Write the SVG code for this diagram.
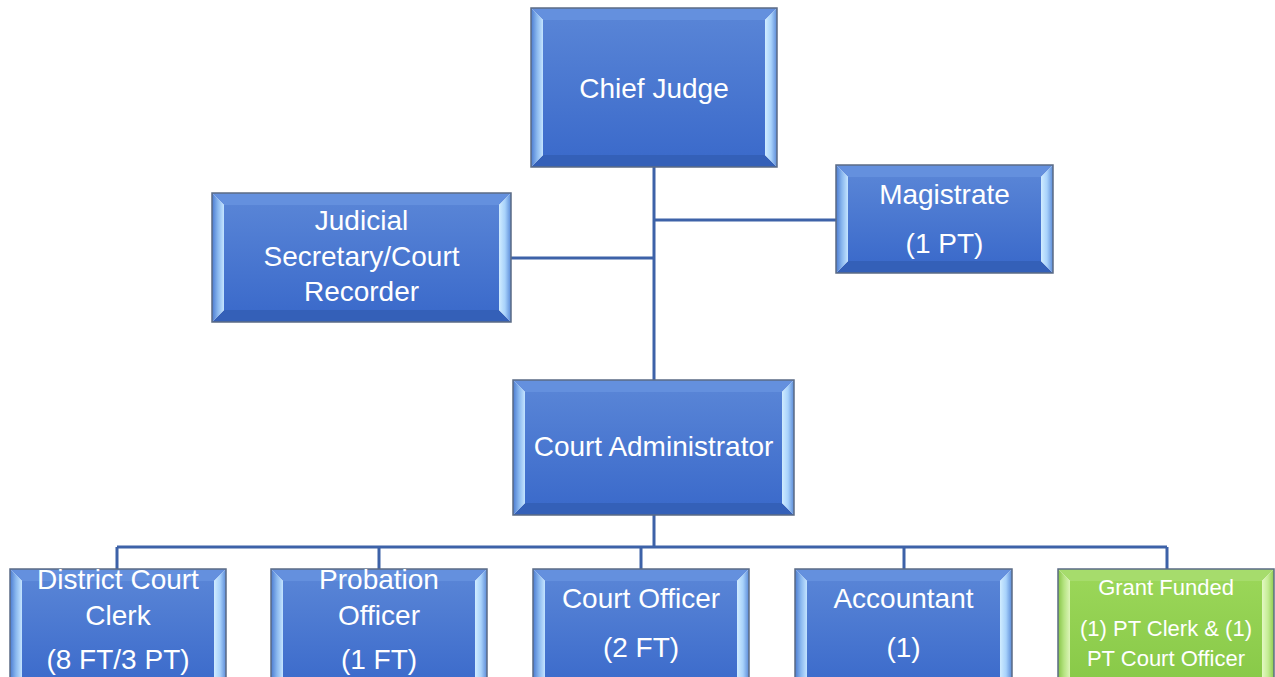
<svg xmlns="http://www.w3.org/2000/svg" width="1275" height="677" viewBox="0 0 1275 677">
<defs>
<linearGradient id="gin" x1="0" y1="0" x2="0" y2="1"><stop offset="0" stop-color="#5884d6"/><stop offset="1" stop-color="#3c6bcb"/></linearGradient>
<linearGradient id="gl" x1="0" y1="0" x2="1" y2="0"><stop offset="0" stop-color="#4a7ad0"/><stop offset="0.5" stop-color="#8ab8ef"/><stop offset="1" stop-color="#c4e4ff"/></linearGradient>
<linearGradient id="gr" x1="1" y1="0" x2="0" y2="0"><stop offset="0" stop-color="#5a8ad8"/><stop offset="0.5" stop-color="#a8d2fb"/><stop offset="1" stop-color="#d0ecff"/></linearGradient>
<linearGradient id="ggin" x1="0" y1="0" x2="0" y2="1"><stop offset="0" stop-color="#9ad658"/><stop offset="1" stop-color="#88c948"/></linearGradient>
<linearGradient id="ggl" x1="0" y1="0" x2="1" y2="0"><stop offset="0" stop-color="#86c446"/><stop offset="0.5" stop-color="#b6e482"/><stop offset="1" stop-color="#dcf4b8"/></linearGradient>
<linearGradient id="ggr" x1="1" y1="0" x2="0" y2="0"><stop offset="0" stop-color="#8ccc4c"/><stop offset="0.5" stop-color="#c4ec94"/><stop offset="1" stop-color="#e4f8c4"/></linearGradient>
</defs>
<style>
.ot{fill:none;stroke:#5b6b85;stroke-width:1.5}
.tp{fill:#6490de}.bt{fill:#3460b8}.lf{fill:url(#gl)}.rt{fill:url(#gr)}.in{fill:url(#gin)}
.gtp{fill:#a6dc6c}.gbt{fill:#74b23a}.glf{fill:url(#ggl)}.grt{fill:url(#ggr)}.gin{fill:url(#ggin)}
.t{font-family:"Liberation Sans",Arial,sans-serif;font-size:28px;fill:#ffffff;text-anchor:middle}
.ts{font-size:22px}
.c{fill:none;stroke:#3d62a8;stroke-width:3}
</style>
<g id="connectors">
<path class="c" d="M654,167 V380 M654,220 H836 M654,258 H511 M654,515 V547 M117,547 H1167 M117,547 V569 M379,547 V569 M641,547 V569 M904,547 V569 M1167,547 V569"/>
</g>
<g id="chief-judge">
<polygon class="tp" points="531,8 777,8 765,20 543,20"/>
<polygon class="bt" points="531,167 777,167 765,155 543,155"/>
<polygon class="lf" points="531,8 543,20 543,155 531,167"/>
<polygon class="rt" points="777,8 765,20 765,155 777,167"/>
<rect class="in" x="543" y="20" width="222" height="135"/>
<rect class="ot" x="531" y="8" width="246" height="159"/>
<text class="t" x="654" y="98">Chief Judge</text>
</g>
<g id="magistrate">
<polygon class="tp" points="836,165 1053,165 1041,177 848,177"/>
<polygon class="bt" points="836,273 1053,273 1041,261 848,261"/>
<polygon class="lf" points="836,165 848,177 848,261 836,273"/>
<polygon class="rt" points="1053,165 1041,177 1041,261 1053,273"/>
<rect class="in" x="848" y="177" width="193" height="84"/>
<rect class="ot" x="836" y="165" width="217" height="108"/>
<text class="t" x="944.5" y="204">Magistrate</text>
<text class="t" x="944.5" y="253">(1 PT)</text>
</g>
<g id="judicial-secretary">
<polygon class="tp" points="212,193 511,193 499,205 224,205"/>
<polygon class="bt" points="212,322 511,322 499,310 224,310"/>
<polygon class="lf" points="212,193 224,205 224,310 212,322"/>
<polygon class="rt" points="511,193 499,205 499,310 511,322"/>
<rect class="in" x="224" y="205" width="275" height="105"/>
<rect class="ot" x="212" y="193" width="299" height="129"/>
<text class="t" x="361.5" y="230">Judicial</text>
<text class="t" x="361.5" y="266">Secretary/Court</text>
<text class="t" x="361.5" y="301">Recorder</text>
</g>
<g id="court-administrator">
<polygon class="tp" points="513,380 794,380 782,392 525,392"/>
<polygon class="bt" points="513,515 794,515 782,503 525,503"/>
<polygon class="lf" points="513,380 525,392 525,503 513,515"/>
<polygon class="rt" points="794,380 782,392 782,503 794,515"/>
<rect class="in" x="525" y="392" width="257" height="111"/>
<rect class="ot" x="513" y="380" width="281" height="135"/>
<text class="t" x="653.5" y="456">Court Administrator</text>
</g>
<g id="district-court-clerk">
<polygon class="tp" points="10,569 226,569 214,581 22,581"/>
<polygon class="lf" points="10,569 22,581 22,682 10,694"/>
<polygon class="rt" points="226,569 214,581 214,682 226,694"/>
<rect class="in" x="22" y="581" width="192" height="101"/>
<rect class="ot" x="10" y="569" width="216" height="125"/>
<text class="t" x="118" y="589">District Court</text>
<text class="t" x="118" y="625">Clerk</text>
<text class="t" x="118" y="669">(8 FT/3 PT)</text>
</g>
<g id="probation-officer">
<polygon class="tp" points="271,569 487,569 475,581 283,581"/>
<polygon class="lf" points="271,569 283,581 283,682 271,694"/>
<polygon class="rt" points="487,569 475,581 475,682 487,694"/>
<rect class="in" x="283" y="581" width="192" height="101"/>
<rect class="ot" x="271" y="569" width="216" height="125"/>
<text class="t" x="379" y="589">Probation</text>
<text class="t" x="379" y="625">Officer</text>
<text class="t" x="379" y="669">(1 FT)</text>
</g>
<g id="court-officer">
<polygon class="tp" points="533,569 749,569 737,581 545,581"/>
<polygon class="lf" points="533,569 545,581 545,682 533,694"/>
<polygon class="rt" points="749,569 737,581 737,682 749,694"/>
<rect class="in" x="545" y="581" width="192" height="101"/>
<rect class="ot" x="533" y="569" width="216" height="125"/>
<text class="t" x="641" y="608">Court Officer</text>
<text class="t" x="641" y="657">(2 FT)</text>
</g>
<g id="accountant">
<polygon class="tp" points="795,569 1012,569 1000,581 807,581"/>
<polygon class="lf" points="795,569 807,581 807,682 795,694"/>
<polygon class="rt" points="1012,569 1000,581 1000,682 1012,694"/>
<rect class="in" x="807" y="581" width="193" height="101"/>
<rect class="ot" x="795" y="569" width="217" height="125"/>
<text class="t" x="903.5" y="608">Accountant</text>
<text class="t" x="903.5" y="657">(1)</text>
</g>
<g id="grant-funded">
<polygon class="gtp" points="1058,569 1274,569 1262,581 1070,581"/>
<polygon class="glf" points="1058,569 1070,581 1070,682 1058,694"/>
<polygon class="grt" points="1274,569 1262,581 1262,682 1274,694"/>
<rect class="gin" x="1070" y="581" width="192" height="101"/>
<rect class="ot" x="1058" y="569" width="216" height="125"/>
<text class="t ts" x="1166" y="595">Grant Funded</text>
<text class="t ts" x="1166" y="636">(1) PT Clerk &amp; (1)</text>
<text class="t ts" x="1166" y="666">PT Court Officer</text>
</g>
</svg>
